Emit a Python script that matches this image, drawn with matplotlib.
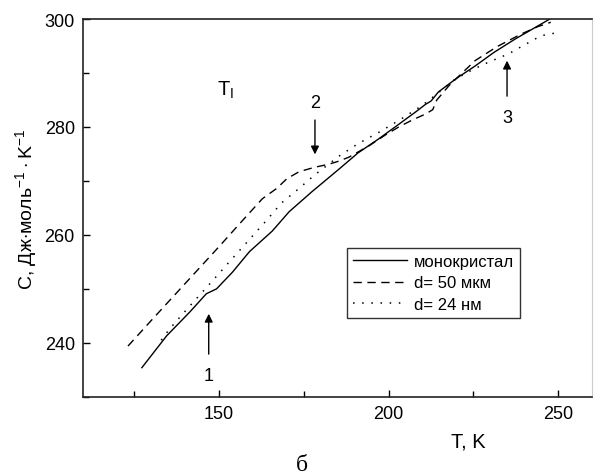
import matplotlib
matplotlib.use('Agg')
import matplotlib.pyplot as plt
from matplotlib.ticker import MultipleLocator

plt.rcParams['font.family'] = ['Liberation Sans', 'DejaVu Sans']
plt.rcParams['mathtext.fontset'] = 'custom'
plt.rcParams['mathtext.rm'] = 'Liberation Sans'

# monocrystal
T_mono = [127.3, 134.6, 141.4, 146.3, 149.3, 154.0, 159.0, 165.7, 170.7, 177.4,
          185.4, 191.0, 197.1, 203.0, 208.0, 210.9, 212.5, 214.7, 220.0, 225.5,
          231.0, 237.3, 242.0, 247.5]
C_mono = [235.4, 241.3, 245.7, 249.1, 250.0, 253.1, 256.9, 260.7, 264.3, 268.0,
          272.2, 275.2, 277.8, 280.5, 282.8, 284.2, 284.8, 286.5, 289.0, 291.3,
          293.8, 296.3, 298.0, 300.0]

# d = 50 um
T_50 = [123.2, 130.0, 137.0, 144.3, 150.0, 156.0, 162.8, 167.0, 170.0, 173.6,
        178.0, 182.4, 185.0, 188.3, 194.2, 199.0, 203.0, 207.0, 210.9, 213.0,
        214.2, 218.0, 225.5, 232.0, 239.0, 244.0, 247.8]
C_50 = [239.4, 244.1, 248.9, 253.9, 257.8, 262.0, 266.7, 268.6, 270.4, 271.7,
        272.5, 273.1, 273.6, 274.4, 276.5, 278.5, 280.0, 281.3, 282.4, 283.2,
        285.0, 287.8, 292.3, 294.9, 297.2, 298.6, 299.4]

# d = 24 nm
T_24 = [133.0, 135.5, 140.8, 146.7, 152.5, 157.2, 163.9, 168.4, 173.6, 178.0,
        185.4, 191.0, 197.1, 203.0, 209.7, 214.0, 219.7, 225.0, 229.4, 235.2,
        240.0, 244.9, 249.9]
C_24 = [240.5, 242.6, 246.4, 250.5, 254.6, 257.9, 262.6, 265.9, 268.6, 271.0,
        274.6, 276.9, 279.0, 281.2, 283.9, 286.0, 288.9, 290.7, 292.0, 293.5,
        295.2, 296.9, 297.5]

labels = ['монокристал', 'd= 50 мкм', 'd= 24 нм']

fig = plt.figure(figsize=(5.94, 4.77), dpi=100)
ax = fig.add_axes([0.140, 0.166, 0.857, 0.792])

ax.plot(T_mono, C_mono, color='black', lw=1.0, ls='-', label=labels[0])
ax.plot(T_50, C_50, color='black', lw=1.0, ls=(0, (6, 4)), label=labels[1])
ax.plot(T_24, C_24, color='black', lw=1.1, ls=(0, (1, 5)), label=labels[2])

ax.set_xlim(110, 260)
ax.set_ylim(230, 300)
ax.xaxis.set_major_locator(MultipleLocator(50))
ax.xaxis.set_minor_locator(MultipleLocator(25))
ax.yaxis.set_major_locator(MultipleLocator(20))
ax.yaxis.set_minor_locator(MultipleLocator(10))
ax.tick_params(which='both', direction='in', labelsize=13, top=False, right=False)
ax.tick_params(which='major', length=5, width=1, pad=6)
ax.tick_params(which='minor', length=4, width=1)

for s in ['left', 'bottom', 'top']:
    ax.spines[s].set_color('#222222')
    ax.spines[s].set_linewidth(1.2)
ax.spines['right'].set_color('#cccccc')

ax.set_ylabel(r'C, Дж$\cdot$моль$^{-1}\cdot$K$^{-1}$', fontsize=14)
ax.yaxis.set_label_coords(-0.084, 0.5)
ax.set_xlabel('T, K', fontsize=14.5)
ax.xaxis.set_label_coords(0.756, -0.093)

ax.text(149.3, 286.9, r'T$_\mathrm{I}$', fontsize=14.5, ha='left', va='center')

arr = dict(arrowstyle='-|>', color='black', lw=1.0, mutation_scale=12)
ax.annotate('', xy=(147, 245.9), xytext=(147, 237.4), arrowprops=arr)
ax.text(147, 233.9, '1', fontsize=13, ha='center', va='center')
ax.annotate('', xy=(178.3, 274.4), xytext=(178.3, 281.8), arrowprops=arr)
ax.text(178.3, 284.6, '2', fontsize=13, ha='center', va='center')
ax.annotate('', xy=(234.9, 292.8), xytext=(234.9, 285.2), arrowprops=arr)
ax.text(234.9, 281.8, '3', fontsize=13, ha='center', va='center')

leg = ax.legend(loc='upper left', bbox_to_anchor=(0.519, 0.394), fontsize=12,
                frameon=True, fancybox=False, edgecolor='black',
                handlelength=3.2, handletextpad=0.45, borderpad=0.35,
                labelspacing=0.4, borderaxespad=0)
leg.get_frame().set_linewidth(1.0)

fig.text(0.508, 0.025, 'б', fontsize=17, family='Liberation Serif',
         ha='center', va='center')

fig.savefig('out.png', dpi=100)
